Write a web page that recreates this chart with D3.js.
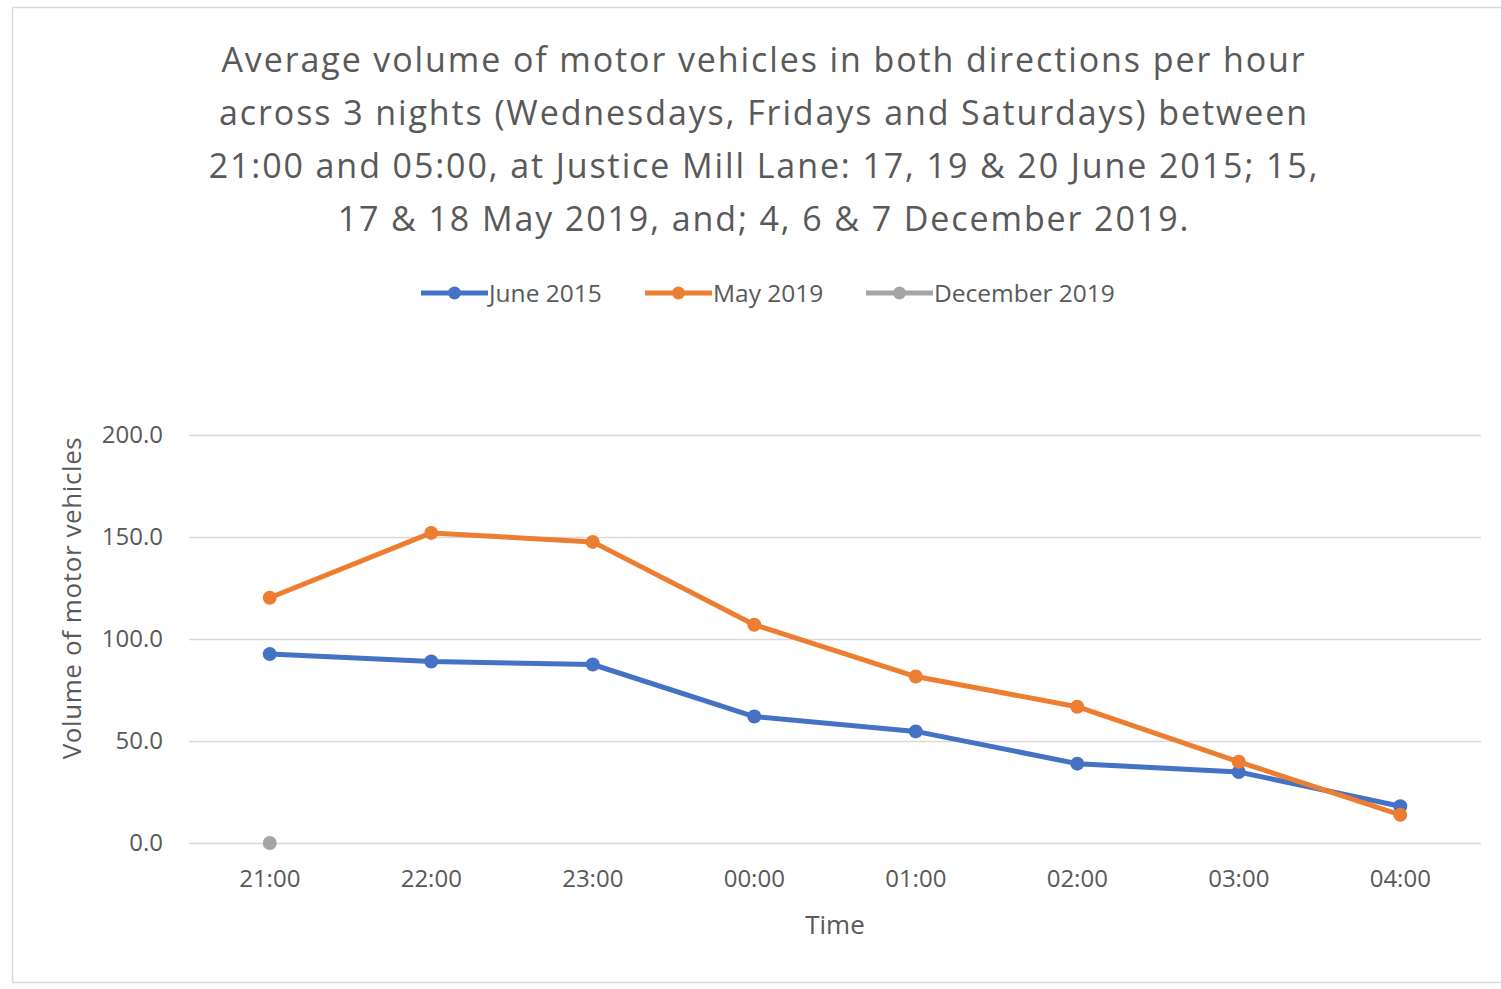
<!DOCTYPE html>
<html>
<head>
<meta charset="utf-8">
<script src="https://cdn.jsdelivr.net/npm/d3@7"></script>
<style>
  body { margin: 0; background: #fff; }
  text { font-family: "Open Sans", "Noto Sans", sans-serif; fill: #595959; }
</style>
</head>
<body>
<div id="chart"></div>
<script>
// Data
const times = ["21:00", "22:00", "23:00", "00:00", "01:00", "02:00", "03:00", "04:00"];
const june2015 = [92.6, 89.0, 87.5, 62.0, 54.7, 38.9, 34.8, 18.0];
const may2019 = [120.2, 152.0, 147.6, 107.0, 81.6, 66.8, 39.8, 13.8];
const dec2019 = [0.0, null, null, null, null, null, null, null];
const yTicks = [0, 50, 100, 150, 200];
const titleLines = [
  "Average volume of motor vehicles in both directions per hour",
  "across 3 nights (Wednesdays, Fridays and Saturdays) between",
  "21:00 and 05:00, at Justice Mill Lane: 17, 19 & 20 June 2015; 15,",
  "17 & 18 May 2019, and; 4, 6 & 7 December 2019."
];

const series = [
  { name: "June 2015", values: june2015, color: "#4472c4" },
  { name: "May 2019", values: may2019, color: "#ed7d31" },
  { name: "December 2019", values: dec2019, color: "#a5a5a5" }
];

const W = 1501, H = 989;
const plot = { left: 189, right: 1481, top: 435, bottom: 843 };

const svg = d3.select("#chart").append("svg")
  .attr("width", W).attr("height", H);

// chart frame
svg.append("rect")
  .attr("x", 12.5).attr("y", 7.5)
  .attr("width", W + 10).attr("height", 975)
  .attr("fill", "#fff").attr("stroke", "#d9d9d9").attr("stroke-width", 1.5);

// title
svg.append("g").selectAll("text")
  .data(titleLines)
  .join("text")
  .attr("x", 764)
  .attr("y", (d, i) => 72 + i * 53)
  .attr("text-anchor", "middle")
  .style("font-size", "34px")
  .style("letter-spacing", "1.9px")
  .text(d => d);

// scales
const x = d3.scaleBand().domain(times).range([plot.left, plot.right]);
const y = d3.scaleLinear().domain([0, 200]).range([plot.bottom, plot.top]);
const cx = t => x(t) + x.bandwidth() / 2;

// gridlines
svg.append("g")
  .attr("transform", `translate(${plot.left},0)`)
  .call(d3.axisLeft(y).tickValues(yTicks).tickSize(-(plot.right - plot.left)).tickFormat(""))
  .call(g => g.select(".domain").remove())
  .call(g => g.selectAll("line").attr("stroke", "#d9d9d9").attr("stroke-width", 1.5));

// y tick labels
svg.append("g")
  .attr("transform", `translate(${plot.left},0)`)
  .call(d3.axisLeft(y).tickValues(yTicks).tickSize(0).tickPadding(26).tickFormat(d3.format(".1f")))
  .call(g => g.select(".domain").remove())
  .call(g => g.selectAll("text").style("font-size", "24px").attr("fill", "#595959"));

// x axis labels
svg.append("g")
  .attr("transform", `translate(0,${plot.bottom})`)
  .call(d3.axisBottom(x).tickSize(0).tickPadding(27))
  .call(g => g.select(".domain").remove())
  .call(g => g.selectAll("text").style("font-size", "24px").attr("fill", "#595959"));

// axis titles
svg.append("text")
  .attr("x", 835).attr("y", 934)
  .attr("text-anchor", "middle")
  .style("font-size", "26px")
  .text("Time");

svg.append("text")
  .attr("transform", `translate(81,598) rotate(-90)`)
  .attr("text-anchor", "middle")
  .style("font-size", "26px")
  .style("letter-spacing", "0.6px")
  .text("Volume of motor vehicles");

// lines and markers
const line = d3.line()
  .defined(d => d.v !== null)
  .x(d => cx(d.t))
  .y(d => y(d.v));

series.forEach(s => {
  const pts = times.map((t, i) => ({ t, v: s.values[i] }));
  svg.append("path")
    .datum(pts)
    .attr("d", line)
    .attr("fill", "none")
    .attr("stroke", s.color)
    .attr("stroke-width", 5)
    .attr("stroke-linejoin", "round")
    .attr("stroke-linecap", "round");
  svg.append("g").selectAll("circle")
    .data(pts.filter(d => d.v !== null))
    .join("circle")
    .attr("cx", d => cx(d.t))
    .attr("cy", d => y(d.v))
    .attr("r", 7)
    .attr("fill", s.color);
});

// legend
const legendX = [421, 645, 866];
const legend = svg.append("g").selectAll("g")
  .data(series)
  .join("g")
  .attr("transform", (d, i) => `translate(${legendX[i]},293)`);
legend.append("line")
  .attr("x1", 0).attr("x2", 67)
  .attr("stroke", d => d.color).attr("stroke-width", 5);
legend.append("circle")
  .attr("cx", 33.5).attr("r", 6.5)
  .attr("fill", d => d.color);
legend.append("text")
  .attr("x", 68).attr("dy", "0.35em")
  .style("font-size", "24.5px")
  .text(d => d.name);
</script>
</body>
</html>
